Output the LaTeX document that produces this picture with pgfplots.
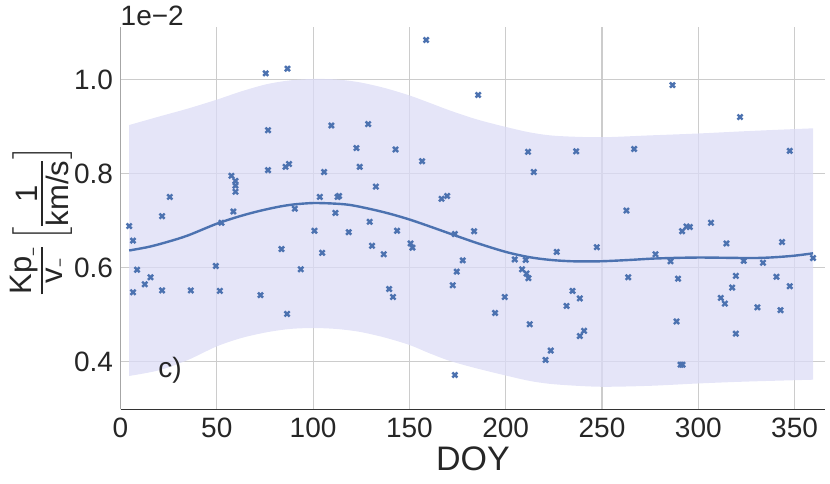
\documentclass[border=0pt]{standalone}
\usepackage{fix-cm}
\usepackage{amsmath}
\usepackage{fontspec}
\setmainfont{Liberation Sans}
\usepackage{pgfplots}
\pgfplotsset{compat=1.18}
\usepgfplotslibrary{fillbetween}
\definecolor{sbblue}{HTML}{4C72B0}
\definecolor{bandc}{HTML}{DCDCF6}

\pgfplotstableread{
x y
4.5 0.688
6.5 0.657
6.5 0.547
8.6 0.595
12.6 0.564
15.6 0.579
21.6 0.709
21.6 0.551
25.6 0.750
36.5 0.551
49.5 0.603
51.6 0.550
52.4 0.695
57.6 0.795
59.7 0.784
59.7 0.774
59.7 0.761
58.6 0.719
72.7 0.541
75.4 1.013
76.6 0.892
76.6 0.807
83.6 0.639
85.7 0.814
87.5 0.820
86.7 1.023
86.5 0.501
90.5 0.725
93.6 0.596
100.7 0.678
103.5 0.750
104.7 0.631
105.7 0.803
109.5 0.902
111.6 0.716
112.7 0.750
113.5 0.752
118.5 0.675
122.5 0.854
124.2 0.814
128.6 0.905
129.4 0.697
130.6 0.646
132.6 0.772
136.7 0.628
139.5 0.554
141.5 0.537
142.8 0.851
143.6 0.678
150.6 0.651
151.6 0.642
156.6 0.826
158.7 1.084
166.7 0.746
169.6 0.752
172.5 0.562
173.6 0.671
173.6 0.371
174.6 0.591
177.7 0.615
183.6 0.677
185.7 0.967
194.5 0.503
199.5 0.537
204.7 0.617
208.5 0.596
210.4 0.616
210.8 0.587
211.6 0.846
211.8 0.577
212.5 0.479
214.6 0.803
220.7 0.403
223.4 0.423
226.5 0.633
231.6 0.518
234.7 0.550
236.6 0.847
238.5 0.534
238.5 0.454
240.7 0.465
247.3 0.643
262.7 0.721
263.6 0.579
266.7 0.852
277.8 0.628
285.6 0.613
286.6 0.988
288.7 0.485
289.5 0.576
290.8 0.393
291.8 0.393
291.6 0.677
293.9 0.687
295.6 0.686
306.6 0.695
311.7 0.535
313.8 0.523
314.6 0.651
317.6 0.557
319.5 0.582
319.5 0.459
321.7 0.920
323.6 0.614
330.7 0.515
333.6 0.610
340.6 0.580
342.7 0.509
343.5 0.654
347.5 0.848
347.5 0.560
359.6 0.620
}\scatterdata

\pgfplotstableread{
x y
4.5 0.636
15 0.644
25 0.655
35 0.668
50 0.693
62 0.709
72 0.720
82 0.729
90 0.734
100 0.737
110 0.736
119 0.733
130 0.724
140 0.714
150 0.702
160 0.688
171 0.672
185 0.652
200 0.633
212 0.622
223 0.616
235 0.613
249 0.613
265 0.616
278 0.619
300 0.621
330 0.620
347.5 0.624
359.6 0.630
}\fitline

\pgfplotstableread{
x y
4.5 0.903
20 0.921
35 0.938
50 0.957
63 0.975
76 0.990
88 0.998
100 1.001
112 1.000
124 0.994
137 0.982
150 0.966
160 0.951
171 0.934
185 0.915
200 0.899
213 0.887
226 0.880
249 0.877
275 0.881
300 0.885
325 0.890
347.5 0.894
359.6 0.896
}\upperband

\pgfplotstableread{
x y
4.5 0.369
20 0.381
35 0.403
50 0.432
63 0.450
76 0.462
88 0.469
100 0.471
112 0.469
124 0.463
137 0.451
150 0.435
160 0.418
171 0.401
185 0.385
200 0.370
213 0.358
226 0.351
249 0.346
275 0.348
300 0.353
325 0.357
359.6 0.361
}\lowerband

\begin{document}
\begin{tikzpicture}
\begin{axis}[
  scale only axis,
  width=704.9pt, height=382pt,
  xmin=0, xmax=366, ymin=0.298, ymax=1.111,
  clip mode=individual,
  xtick={0,50,...,350},
  ytick={0.4,0.6,0.8,1.0},
  grid=major,
  major grid style={draw=black!20, line width=1.1pt},
  major tick length=0pt,
  axis x line*=bottom, axis y line*=left,
  x axis line style={-, draw=black!80, line width=1.4pt},
  y axis line style={-, draw=black!35, line width=1.2pt},
  tick label style={font=\fontsize{28}{32}\selectfont, text=black!85},
  /pgf/number format/assume math mode=true,
  yticklabel style={/pgf/number format/fixed, /pgf/number format/precision=1, /pgf/number format/fixed zerofill, inner sep=0pt, anchor=east, xshift=-7.3pt},
  xticklabel style={inner sep=0pt, anchor=north, yshift=-8.7pt},
  xlabel={DOY},
  every axis x label/.style={at={(axis description cs:0.5,0)}, anchor=north, yshift=-37.4pt, inner sep=0pt, font=\fontsize{34}{40}\selectfont, text=black!85},
  ylabel={$\genfrac{}{}{2.4pt}{1}{\mbox{Kp}_{\text{−}}}{\mbox{v}_{\text{−}}}\left[\genfrac{}{}{2.4pt}{1}{\mbox{1}}{\mbox{km/s}}\right]$},
  every axis y label/.style={at={(axis description cs:0,0.5)}, xshift=-70.5pt, yshift=-2.7pt, rotate=90, anchor=base, inner sep=0pt, font=\fontsize{31}{36}\selectfont, text=black!85},
]
\addplot[name path=U, draw=none, smooth] table[x=x,y=y] {\upperband};
\addplot[name path=L, draw=none, smooth] table[x=x,y=y] {\lowerband};
\addplot[fill=bandc, fill opacity=0.75, draw=none] fill between[of=U and L];
\addplot[sbblue, line width=2.4pt, smooth] table[x=x,y=y] {\fitline};
\addplot[only marks, mark=x, mark size=3.6pt, mark options={line width=2.4pt}, sbblue] table[x=x,y=y] {\scatterdata};
\end{axis}
\node[anchor=south west, inner sep=0pt, font=\fontsize{28}{32}\selectfont, text=black!85] at (0pt,383pt) {1e−2};
\node[anchor=center, inner sep=0pt, font=\fontsize{28}{32}\selectfont, text=black!85] at (49.5pt,39.5pt) {c)};
\pgfresetboundingbox
\path (-120.5pt,-73.7pt) rectangle (709.5pt,409.3pt);
\end{tikzpicture}
\end{document}
